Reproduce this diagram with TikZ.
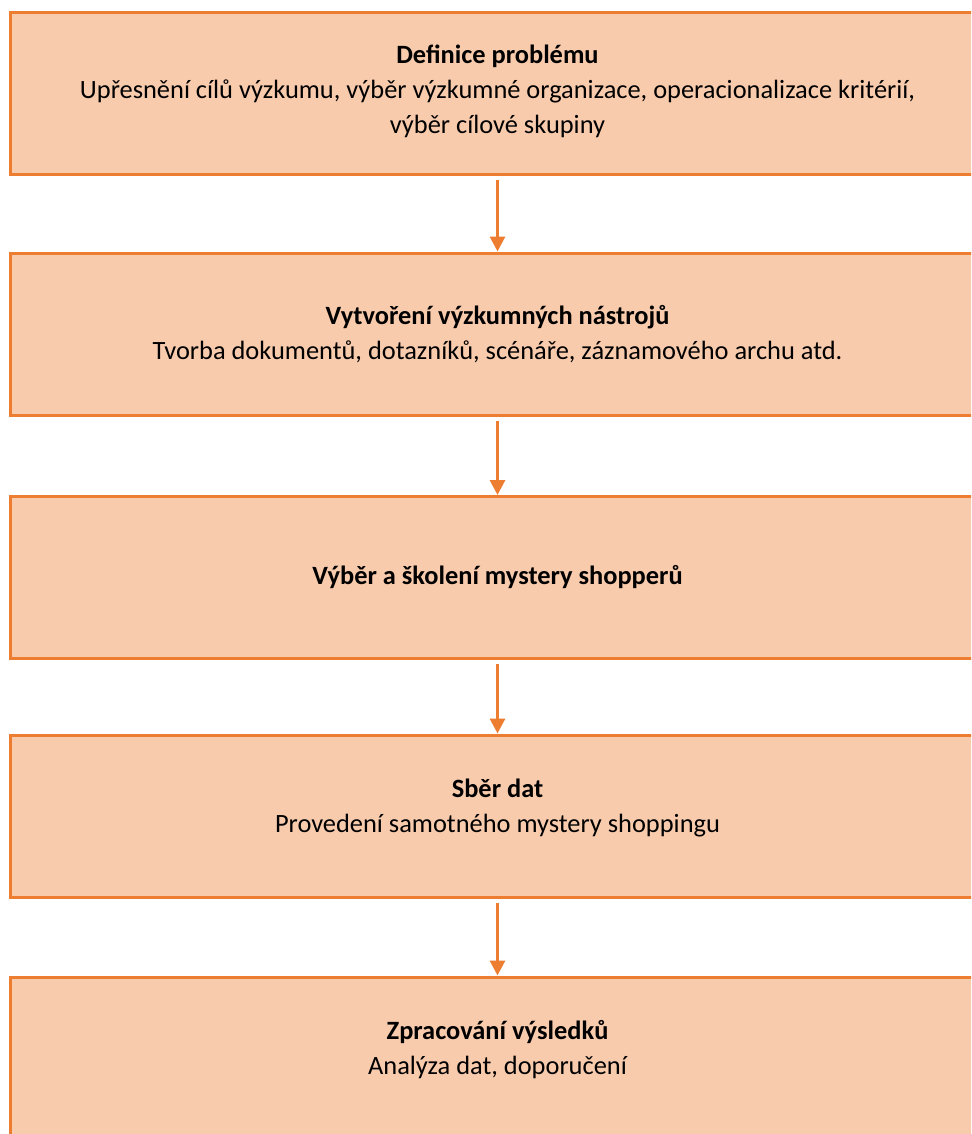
\documentclass[tikz,border=0pt]{standalone}
\usepackage{fontspec}
\setmainfont{Carlito}
\usetikzlibrary{arrows.meta}
\definecolor{stagefill}{HTML}{F8CBAD}
\definecolor{stageline}{HTML}{ED7D31}
\tikzset{
  stage/.style={draw=stageline, fill=stagefill, line width=3pt,
    minimum width=975pt, minimum height=162pt, inner sep=0pt,
    align=center, font=\fontsize{26.4}{35}\selectfont},
  flow/.style={draw=stageline, line width=3pt, shorten <=4pt,
    -{Triangle[length=15pt,width=15pt]}}
}
\begin{document}
\begin{tikzpicture}[x=1pt,y=-1pt]
      \clip (0,0) rectangle (971,1134);
      \draw
        (497.5,94) node[stage, text depth=10pt] (def){\textbf{Definice problému}\\
          Upřesnění cílů výzkumu, výběr výzkumné organizace, operacionalizace kritérií,\\
          výběr cílové skupiny}
        (497.5,334) node[stage] (tools){\textbf{Vytvoření výzkumných nástrojů}\\
          Tvorba dokumentů, dotazníků, scénáře, záznamového archu atd.}
        (497.5,577.5) node[stage] (train){\textbf{Výběr a školení mystery shopperů}}
        (497.5,816) node[stage, text depth=20pt] (data){\textbf{Sběr dat}\\
          Provedení samotného mystery shoppingu}
        (497.5,1058) node[stage, text depth=22pt] (results){\textbf{Zpracování výsledků}\\
          Analýza dat, doporučení};
      \begin{scope}[flow]
        \draw (def) to (tools);
        \draw (tools) to (train);
        \draw (train) to (data);
        \draw (data) to (results);
      \end{scope}
    \end{tikzpicture}
\end{document}
